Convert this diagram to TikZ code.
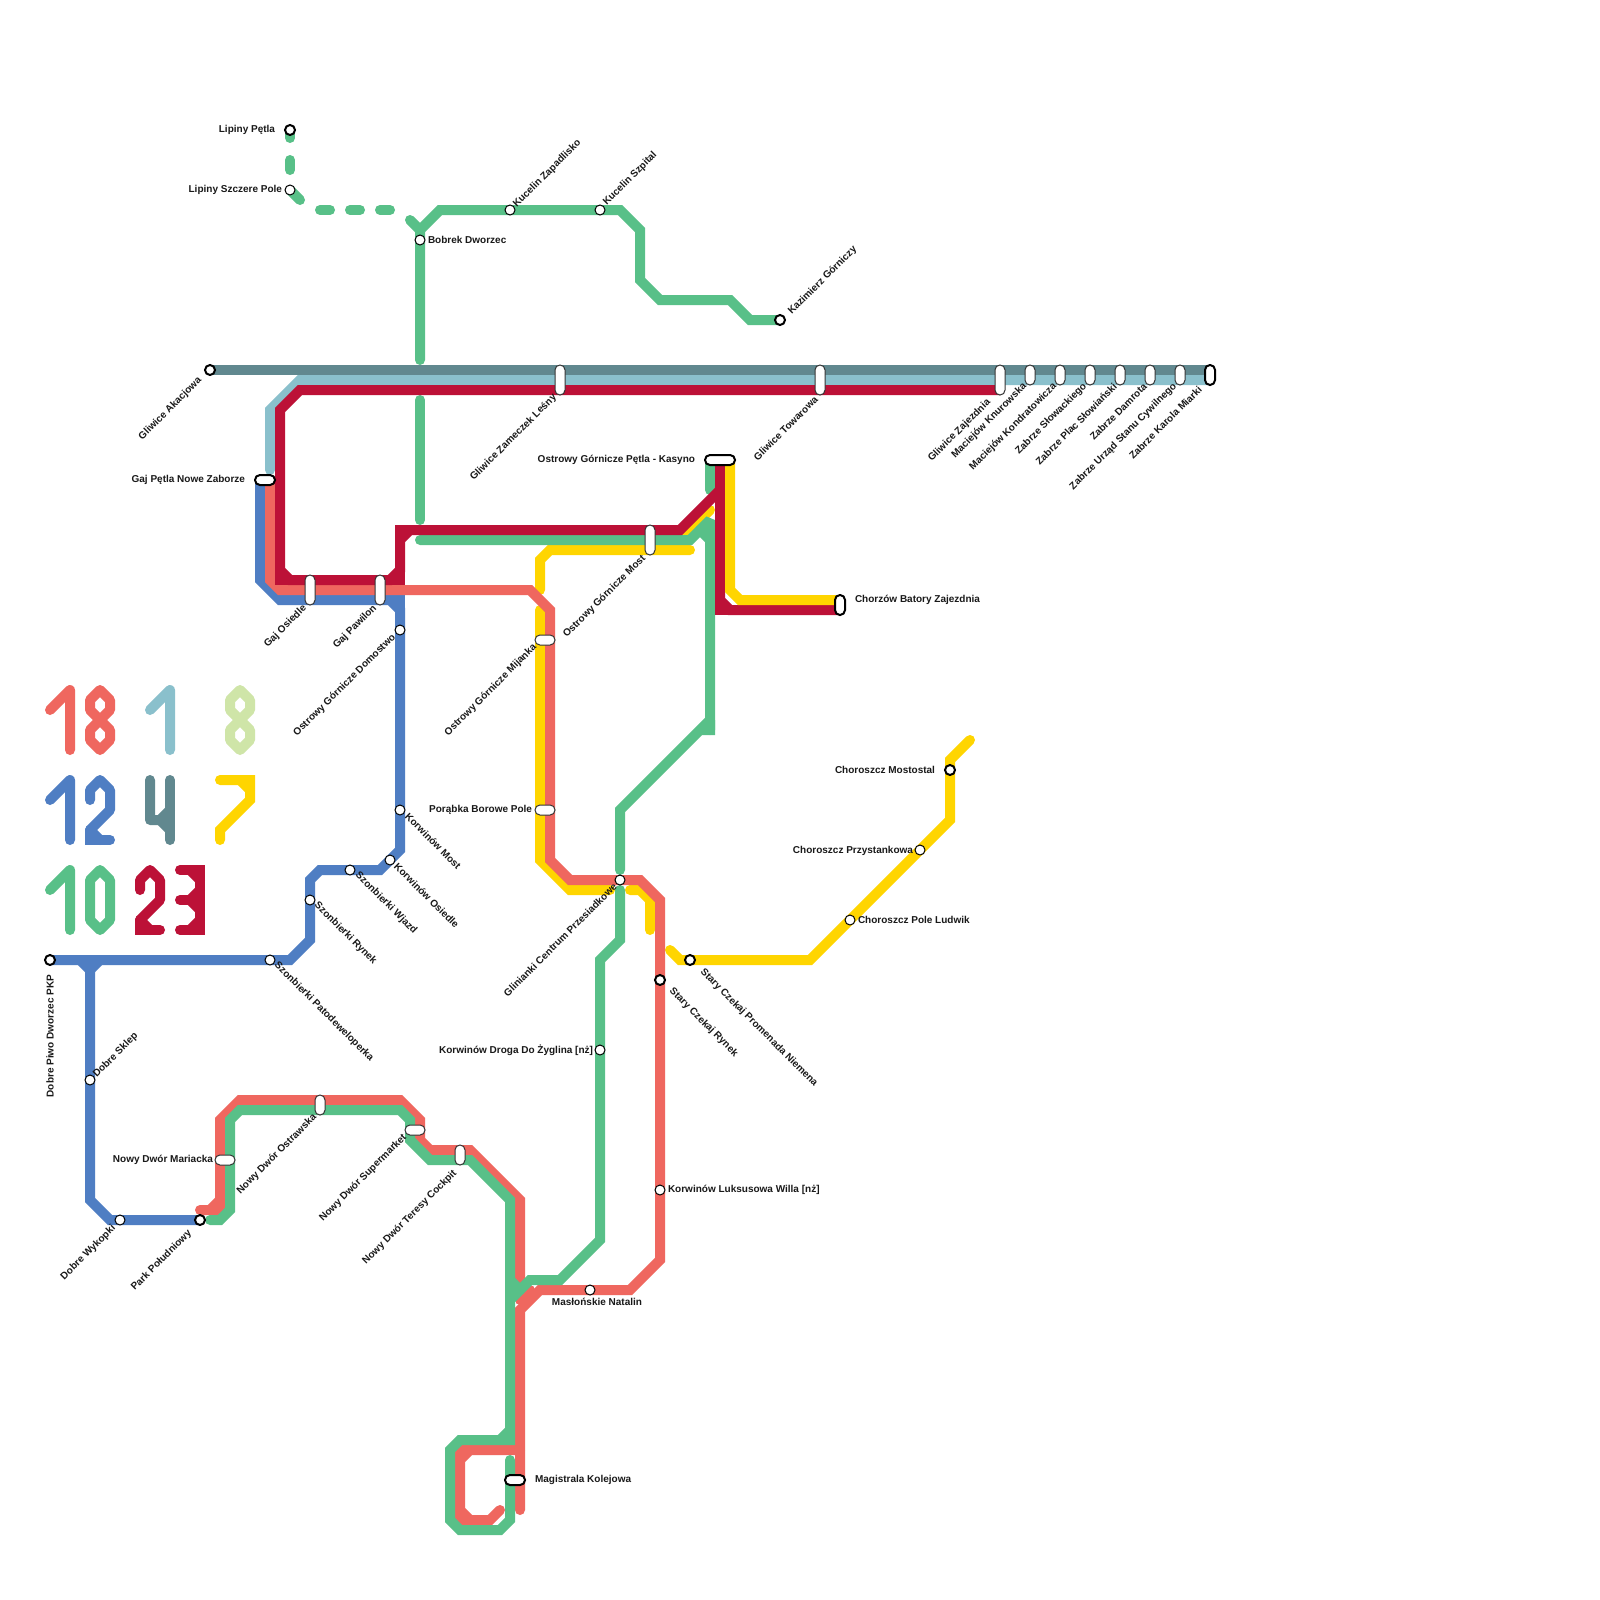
\documentclass[tikz,border=0pt]{standalone}
\usepackage{fontspec}
\setmainfont{Liberation Sans}
\definecolor{cCoral}{HTML}{EF675F}
\definecolor{cBlue}{HTML}{4F7EC3}
\definecolor{cPale}{HTML}{8AC0CC}
\definecolor{cTeal}{HTML}{61888F}
\definecolor{cRed}{HTML}{BC1137}
\definecolor{cGreen}{HTML}{58C088}
\definecolor{cYellow}{HTML}{FFD500}
\definecolor{cLime}{HTML}{CFE5A8}
\tikzset{
  ln/.style={line width=10pt,line cap=round,line join=miter,miter limit=1.5,draw=#1},
  dg/.style={line width=10pt,line cap=round,line join=round,draw=#1},
  stn/.style={circle,draw=black,fill=white,line width=1pt,minimum size=10pt,inner sep=0pt,outer sep=0pt},
  term/.style={stn,line width=2pt},
  capv/.style={rectangle,rounded corners=4.9pt,draw=black!80,fill=white,line width=1pt,minimum width=10pt,inner sep=0pt,outer sep=0pt},
  caph/.style={capv,minimum height=10pt},
  thk/.style={draw=black,line width=2pt},
  lbl/.style={font=\fontsize{10}{11}\selectfont\bfseries,text=black!90,inner sep=0pt,outer sep=0pt},
  ne/.style={lbl,rotate=45,anchor=west},
  sw/.style={lbl,rotate=45,anchor=east},
  se/.style={lbl,rotate=-45,anchor=west},
  le/.style={lbl,anchor=east},
  ri/.style={lbl,anchor=west},
}
\begin{document}
\begin{tikzpicture}[x=1pt,y=-1pt]
\useasboundingbox (0,0) rectangle (1600,1600);
\fill[white] (0,0) rectangle (1600,1600);
% legend
\draw[dg=cCoral] (50,710)--(70,690)--(70,750);
\draw[dg=cCoral] (100,690)--(110,700)--(110,710)--(100,720)--(90,710)--(90,700)--cycle;
\draw[dg=cCoral] (100,720)--(110,730)--(110,740)--(100,750)--(90,740)--(90,730)--cycle;
\draw[dg=cPale] (150,710)--(170,690)--(170,750);
\draw[dg=cLime] (240,690)--(250,700)--(250,710)--(240,720)--(230,710)--(230,700)--cycle;
\draw[dg=cLime] (240,720)--(250,730)--(250,740)--(240,750)--(230,740)--(230,730)--cycle;
\draw[dg=cBlue] (50,800)--(70,780)--(70,840);
\draw[dg=cBlue] (90,800)--(90,790)--(100,780)--(110,790)--(110,810)--(90,830);
\draw[ln=cBlue] (90,830)--(90,840)--(110,840);
\draw[dg=cBlue] (90,830)--(100,840);
\draw[dg=cTeal] (150,780)--(150,820)--(160,820)--(170,810);
\draw[dg=cTeal] (160,820)--(170,830);
\draw[dg=cTeal] (170,780)--(170,840);
\draw[ln=cYellow] (220,780)--(250,780)--(250,800)--(220,830)--(220,840);
\draw[dg=cYellow] (240,780)--(250,790);
\draw[dg=cGreen] (50,890)--(70,870)--(70,930);
\draw[dg=cGreen] (100,870)--(110,880)--(110,920)--(100,930)--(90,920)--(90,880)--cycle;
\draw[dg=cRed] (140,890)--(140,880)--(150,870)--(160,880)--(160,900)--(140,920);
\draw[ln=cRed] (140,920)--(140,930)--(160,930);
\draw[dg=cRed] (140,920)--(150,930);
\draw[ln=cRed] (180,870)--(200,870)--(200,930)--(180,930);
\draw[dg=cRed] (180,900)--(190,900);
\draw[dg=cRed] (200,890)--(190,900)--(200,910);
\draw[dg=cRed] (190,870)--(200,880);
\draw[dg=cRed] (190,930)--(200,920);
% blue
\draw[ln=cBlue] (260,480)--(260,580)--(280,600)--(390,600)--(400,610)--(400,850)--(380,870)--(320,870)--(310,880)--(310,940)--(290,960)--(50,960);
\draw[ln=cBlue] (390,600)--(400,600)--(400,610);
\draw[ln=cBlue] (90,960)--(90,1200)--(110,1220)--(200,1220);
\draw[ln=cBlue] (80,960)--(90,970)--(100,960);
% pale and teal
\draw[ln=cTeal] (210,370)--(1210,370);
\draw[ln=cPale] (1210,380)--(300,380)--(270,410)--(270,470);
% yellow part one
\draw[ln=cYellow] (690,550)--(550,550)--(540,560)--(540,590);
\draw[ln=cYellow] (540,610)--(540,860)--(570,890)--(610,890);
\draw[ln=cYellow] (630,890)--(640,890)--(650,900)--(650,930);
\draw[ln=cYellow] (670,950)--(680,960)--(810,960)--(950,820)--(950,760)--(970,740);
\draw[ln=cYellow] (680,540)--(710,510);
% coral
\draw[ln=cCoral] (270,480)--(270,580)--(280,590)--(530,590)--(550,610)--(550,860)--(570,880)--(640,880)--(660,900)--(660,1260)--(630,1290)--(540,1290)--(520,1310)--(520,1510);
\draw[ln=cCoral] (530,1290)--(520,1300);
\draw[ln=cCoral] (200,1210)--(210,1210)--(220,1200)--(220,1120)--(240,1100)--(400,1100)--(420,1120)--(420,1140)--(430,1150)--(470,1150)--(520,1200)--(520,1285);
\draw[ln=cCoral] (210,1210)--(220,1210)--(220,1200);
\draw[ln=cCoral] (520,1450)--(470,1450)--(460,1460)--(460,1510)--(470,1520)--(490,1520)--(500,1510);
\draw[ln=cCoral] (470,1450)--(460,1450)--(460,1460);
\draw[ln=cCoral] (460,1510)--(460,1520)--(470,1520);
% green
\draw[ln=cGreen] (290,130)--(290,138);
\draw[ln=cGreen] (290,160)--(290,170);
\draw[ln=cGreen] (290,190)--(300,200);
\draw[ln=cGreen] (320,210)--(330,210);
\draw[ln=cGreen] (350,210)--(360,210);
\draw[ln=cGreen] (380,210)--(390,210);
\draw[ln=cGreen] (410,220)--(420,230);
\draw[ln=cGreen] (780,320)--(750,320)--(730,300)--(660,300)--(640,280)--(640,230)--(620,210)--(440,210)--(420,230)--(420,360);
\draw[ln=cGreen] (420,400)--(420,520);
\draw[ln=cGreen] (420,540)--(690,540)--(710,520)--(710,730);
\draw[ln=cGreen] (700,530)--(710,540);
\draw[ln=cGreen] (710,460)--(710,490);
\draw[ln=cGreen] (700,730)--(710,730)--(710,720)--(620,810)--(620,870);
\draw[ln=cGreen] (620,890)--(620,940)--(600,960)--(600,1240)--(560,1280)--(530,1280)--(510,1300);
\draw[ln=cGreen] (510,1280)--(520,1290);
\draw[ln=cGreen] (210,1220)--(220,1220)--(230,1210)--(230,1120)--(240,1110)--(400,1110)--(410,1120)--(410,1140)--(430,1160)--(470,1160)--(510,1200)--(510,1440)--(460,1440)--(450,1450)--(450,1520)--(460,1530)--(500,1530)--(510,1520)--(510,1460);
\draw[ln=cGreen] (500,1440)--(510,1430);
% dark red
\draw[ln=cRed] (1000,390)--(300,390)--(280,410)--(280,570)--(290,580)--(390,580)--(400,570)--(400,540)--(410,530)--(680,530)--(720,490);
\draw[ln=cRed] (720,460)--(720,600)--(730,610)--(840,610);
\draw[ln=cRed] (280,570)--(280,580)--(290,580);
\draw[ln=cRed] (390,580)--(400,580)--(400,570);
\draw[ln=cRed] (400,540)--(400,530)--(410,530);
\draw[ln=cRed] (720,600)--(720,610)--(730,610);
% yellow part two
\draw[ln=cYellow] (730,460)--(730,590)--(740,600)--(840,600);
% stations
\node[term] (s1) at (290,130) {};
\node[stn] (s2) at (290,190) {};
\node[stn] (s3) at (420,240) {};
\node[stn] (s4) at (510,210) {};
\node[stn] (s5) at (600,210) {};
\node[term] (s6) at (780,320) {};
\node[term] (s7) at (210,370) {};
\node[capv,minimum height=30pt] (s8) at (560,380) {};
\node[capv,minimum height=30pt] (s9) at (820,380) {};
\node[capv,minimum height=30pt] (s10) at (1000,380) {};
\node[capv,minimum height=20pt] (s11) at (1030,375) {};
\node[capv,minimum height=20pt] (s12) at (1060,375) {};
\node[capv,minimum height=20pt] (s13) at (1090,375) {};
\node[capv,minimum height=20pt] (s14) at (1120,375) {};
\node[capv,minimum height=20pt] (s15) at (1150,375) {};
\node[capv,minimum height=20pt] (s16) at (1180,375) {};
\node[capv,thk,minimum height=20pt] (s17) at (1210,375) {};
\node[caph,thk,minimum width=20pt] (s18) at (265,480) {};
\node[capv,minimum height=30pt] (s19) at (310,590) {};
\node[capv,minimum height=30pt] (s20) at (380,590) {};
\node[stn] (s21) at (400,630) {};
\node[stn] (s22) at (400,810) {};
\node[stn] (s23) at (390,860) {};
\node[stn] (s24) at (350,870) {};
\node[stn] (s25) at (310,900) {};
\node[stn] (s26) at (270,960) {};
\node[term] (s27) at (50,960) {};
\node[stn] (s28) at (90,1080) {};
\node[stn] (s29) at (120,1220) {};
\node[term] (s30) at (200,1220) {};
\node[caph,minimum width=20pt] (s31) at (225,1160) {};
\node[capv,minimum height=20pt] (s32) at (320,1105) {};
\node[caph,minimum width=20pt] (s33) at (415,1130) {};
\node[capv,minimum height=20pt] (s34) at (460,1155) {};
\node[caph,thk,minimum width=20pt] (s35) at (515,1480) {};
\node[stn] (s36) at (590,1290) {};
\node[stn] (s37) at (660,1190) {};
\node[stn] (s38) at (600,1050) {};
\node[term] (s39) at (660,980) {};
\node[term] (s40) at (690,960) {};
\node[stn] (s41) at (620,880) {};
\node[caph,minimum width=20pt] (s42) at (545,810) {};
\node[caph,minimum width=20pt] (s43) at (545,640) {};
\node[capv,minimum height=30pt] (s44) at (650,540) {};
\node[caph,thk,minimum width=30pt] (s45) at (720,460) {};
\node[capv,thk,minimum height=20pt] (s46) at (840,605) {};
\node[term] (s47) at (950,770) {};
\node[stn] (s48) at (920,850) {};
\node[stn] (s49) at (850,920) {};
% labels
\node[le] (t1) at (275,130) {Lipiny Pętla};
\node[le] (t2) at (282,190) {Lipiny Szczere Pole};
\node[ri] (t3) at (428,240) {Bobrek Dworzec};
\node[ne] (t4) at (515,206) {Kucelin Zapadlisko};
\node[ne] (t5) at (605,204) {Kucelin Szpital};
\node[ne] (t6) at (790,313) {Kazimierz Górniczy};
\node[sw] (t7) at (200,379) {Gliwice Akacjowa};
\node[sw] (t8) at (555,396) {Gliwice Zameczek Leśny};
\node[sw] (t9) at (816,398) {Gliwice Towarowa};
\node[sw] (t10) at (989,401) {Gliwice Zajezdnia};
\node[sw] (t11) at (1025,385) {Maciejów Knurowska};
\node[sw] (t12) at (1055,385) {Maciejów Kondratowicza};
\node[sw] (t13) at (1085,385) {Zabrze Słowackiego};
\node[sw] (t14) at (1115,385) {Zabrze Plac Słowiański};
\node[sw] (t15) at (1145,385) {Zabrze Damrota};
\node[sw] (t16) at (1175,385) {Zabrze Urząd Stanu Cywilnego};
\node[sw] (t17) at (1200,388) {Zabrze Karola Miarki};
\node[le] (t18) at (245,480) {Gaj Pętla Nowe Zaborze};
\node[sw] (t19) at (305,607) {Gaj Osiedle};
\node[sw] (t20) at (375,607) {Gaj Pawilon};
\node[sw] (t21) at (394,636) {Ostrowy Górnicze Domostwo};
\node[se] (t22) at (407,815) {Korwinów Most};
\node[se] (t23) at (396,865) {Korwinów Osiedle};
\node[se] (t24) at (357,874) {Szonbierki Wjazd};
\node[se] (t25) at (316,904) {Szonbierki Rynek};
\node[se] (t26) at (276,964) {Szonbierki Patodeweloperka};
\node[lbl,rotate=90,anchor=east] (t27) at (50,975) {Dobre Piwo Dworzec PKP};
\node[ne] (t28) at (95,1076) {Dobre Sklep};
\node[sw] (t29) at (114,1227) {Dobre Wykopki};
\node[sw] (t30) at (190,1232) {Park Południowy};
\node[le] (t31) at (213,1160) {Nowy Dwór Mariacka};
\node[sw] (t32) at (315,1116) {Nowy Dwór Ostrawska};
\node[sw] (t33) at (405,1136) {Nowy Dwór Supermarket};
\node[sw] (t34) at (455,1172) {Nowy Dwór Teresy Cockpit};
\node[ri] (t35) at (535,1480) {Magistrala Kolejowa};
\node[lbl] (t36) at (597,1302) {Masłońskie Natalin};
\node[ri] (t37) at (668,1190) {Korwinów Luksusowa Willa [nż]};
\node[le] (t38) at (593,1050) {Korwinów Droga Do Żyglina [nż]};
\node[se] (t39) at (671,990) {Stary Czekaj Rynek};
\node[se] (t40) at (702,971) {Stary Czekaj Promenada Niemena};
\node[sw] (t41) at (615,885) {Glinianki Centrum Przesiadkowe};
\node[le] (t42) at (532,810) {Porąbka Borowe Pole};
\node[sw] (t43) at (535,646) {Ostrowy Górnicze Mijanka};
\node[sw] (t44) at (644,557) {Ostrowy Górnicze Most};
\node[le] (t45) at (695,460) {Ostrowy Górnicze Pętla - Kasyno};
\node[ri] (t46) at (855,600) {Chorzów Batory Zajezdnia};
\node[le] (t47) at (935,770) {Choroszcz Mostostal};
\node[le] (t48) at (913,851) {Choroszcz Przystankowa};
\node[ri] (t49) at (858,920) {Choroszcz Pole Ludwik};
\end{tikzpicture}
\end{document}
